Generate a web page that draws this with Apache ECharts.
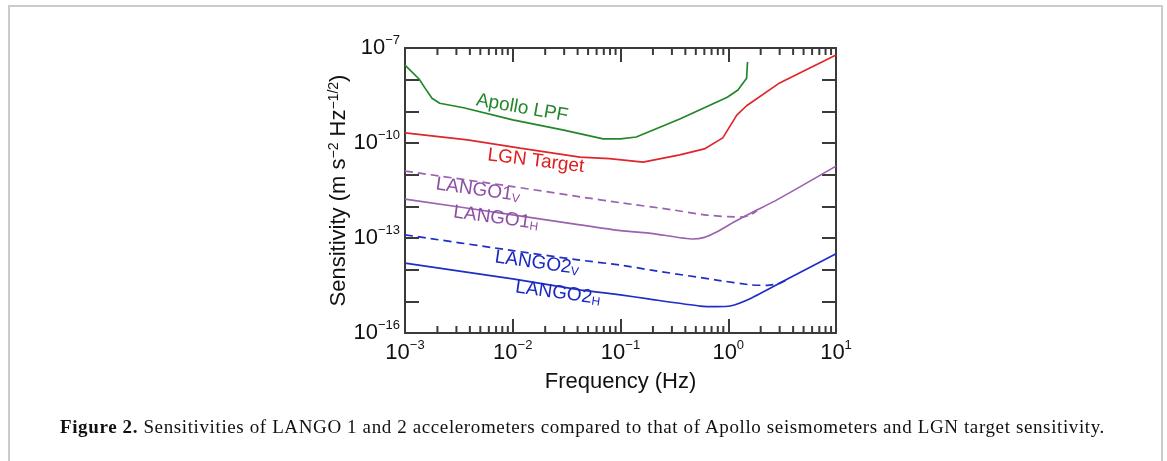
<!DOCTYPE html>
<html>
<head>
<meta charset="utf-8">
<script src="https://cdn.jsdelivr.net/npm/echarts@6/dist/echarts.min.js"></script>
<style>
  html, body { margin: 0; padding: 0; background: #fff; }
  .page { position: relative; width: 1167px; height: 461px; overflow: hidden; }
  .frame { position: absolute; left: 8px; top: 5px; width: 1151px; height: 480px; border: 2px solid #cbcbcb; }
  #chart { position: absolute; left: 0; top: 0; width: 1167px; height: 461px; }
  .caption { position: absolute; left: 60px; top: 416px; font-family: 'Liberation Serif', serif; font-size: 19px; color: #111; white-space: nowrap; }
</style>
</head>
<body>
<div class="page">
  <div class="frame"></div>
  <div id="chart"></div>
  <div class="caption"><span id="cap"><b>Figure 2.</b> Sensitivities of LANGO 1 and 2 accelerometers compared to that of Apollo seismometers and LGN target sensitivity.</span></div>
</div>
<script>
  // values (Hz, m s^-2 Hz^-1/2)
  const apolloFreq = [0.001, 0.00135, 0.00153, 0.00178, 0.0021, 0.0035, 0.01, 0.029, 0.069, 0.1, 0.14, 0.355, 0.98, 1.23, 1.48, 1.51];
  const apolloVal = [2.9e-8, 1.05e-8, 5.5e-9, 2.6e-9, 1.8e-9, 1.3e-9, 5.4e-10, 2.6e-10, 1.35e-10, 1.35e-10, 1.55e-10, 5.7e-10, 2.8e-9, 4.7e-9, 1.1e-8, 3.6e-8];

  const lgnFreq = [0.001, 0.0038, 0.0117, 0.042, 0.079, 0.162, 0.355, 0.6, 0.89, 1.2, 1.48, 3.0, 10];
  const lgnVal = [2.1e-10, 1.26e-10, 6.9e-11, 3.6e-11, 3.2e-11, 2.5e-11, 4.2e-11, 6.5e-11, 1.45e-10, 7.6e-10, 1.5e-9, 7.9e-9, 6.0e-8];

  const lango1vFreq = [0.001, 0.01, 0.042, 0.1, 0.3, 0.6, 1.0, 1.3, 1.6, 1.85];
  const lango1vVal = [1.3e-11, 4.2e-12, 2.0e-12, 1.3e-12, 7.8e-13, 5.4e-13, 4.7e-13, 4.6e-13, 5.3e-13, 7.4e-13];

  const lango1hFreq = [0.001, 0.01, 0.042, 0.1, 0.2, 0.47, 0.6, 0.78, 1.13, 1.63, 2.83, 10];
  const lango1hVal = [1.7e-12, 5.4e-13, 2.6e-13, 1.7e-13, 1.38e-13, 9.3e-14, 1.05e-13, 1.55e-13, 3.2e-13, 6.2e-13, 1.6e-12, 1.86e-11];

  const lango2vFreq = [0.001, 0.01, 0.042, 0.1, 0.188, 0.78, 1.63, 2.3, 3.0, 3.75];
  const lango2vVal = [1.26e-13, 4.0e-14, 2.0e-14, 1.4e-14, 9.8e-15, 4.7e-15, 3.3e-15, 3.2e-15, 3.7e-15, 5.4e-15];

  const lango2hFreq = [0.001, 0.01, 0.042, 0.1, 0.188, 0.55, 0.78, 1.04, 1.63, 3.2, 10];
  const lango2hVal = [1.6e-14, 5.1e-15, 2.3e-15, 1.6e-15, 1.17e-15, 7.1e-16, 6.8e-16, 7.1e-16, 1.26e-15, 4.2e-15, 3.2e-14];

  const xMin = 1e-3, xMax = 10;
  const yMin = 1e-16, yMax = 1e-7;
  const minorTicks = [
    0.002, 0.003, 0.004, 0.005, 0.006, 0.007, 0.008, 0.009,
    0.02, 0.03, 0.04, 0.05, 0.06, 0.07, 0.08, 0.09,
    0.2, 0.3, 0.4, 0.5, 0.6, 0.7, 0.8, 0.9,
    2, 3, 4, 5, 6, 7, 8, 9
  ];

  const zip = (xs, ys) => xs.map((x, i) => [x, ys[i]]);
  const axisColor = '#3a3a3a';
  const font = 'Liberation Sans';

  function powLabel(v) {
    const e = Math.round(Math.log10(v));
    return '{b|10}{sup|' + (e < 0 ? '\u2212' + (-e) : e) + '}';
  }
  const powRich = {
    b: { fontSize: 22, lineHeight: 28, color: '#111', fontFamily: font },
    sup: { fontSize: 13, lineHeight: 13, verticalAlign: 'top', color: '#111', fontFamily: font }
  };

  // curve annotations, anchored in data coordinates
  const notes = [
    { text: 'Apollo LPF', at: [0.0122, 1.27e-9], color: '#23862a', rotate: -10 },
    { text: 'LGN Target', at: [0.0164, 2.7e-11], color: '#e01c1c', rotate: -7 },
    { text: 'LANGO1{sub|V}', at: [0.00476, 3.28e-12], color: '#8e4fa4', rotate: -8 },
    { text: 'LANGO1{sub|H}', at: [0.0070, 4.3e-13], color: '#8e4fa4', rotate: -8 },
    { text: 'LANGO2{sub|V}', at: [0.0168, 1.63e-14], color: '#1b28c0', rotate: -8 },
    { text: 'LANGO2{sub|H}', at: [0.0263, 1.84e-15], color: '#1b28c0', rotate: -8 }
  ];

  function lineSeries(name, xs, ys, color, dashed, smooth) {
    return {
      name: name,
      type: 'line',
      data: zip(xs, ys),
      showSymbol: false,
      smooth: smooth,
      lineStyle: { color: color, width: 1.7, type: dashed ? [8, 5] : 'solid' },
      z: 3
    };
  }

  const chart = echarts.init(document.getElementById('chart'), null, { renderer: 'canvas' });

  const option = {
    animation: false,
    grid: { left: 405, right: 331, top: 48, bottom: 128 },
    xAxis: [
      {
        type: 'log', logBase: 10, min: xMin, max: xMax, interval: 1,
        name: 'Frequency (Hz)', nameLocation: 'middle', nameGap: 38,
        nameTextStyle: { fontSize: 22, color: '#111', fontFamily: font },
        axisLine: { lineStyle: { color: axisColor, width: 2 } },
        axisTick: { inside: true, length: 14, lineStyle: { color: axisColor, width: 2 } },
        axisLabel: { margin: 6, formatter: powLabel, rich: powRich },
        splitLine: { show: false }
      },
      {
        type: 'log', logBase: 10, min: xMin, max: xMax, interval: 1, position: 'top',
        axisLine: { lineStyle: { color: axisColor, width: 2 } },
        axisTick: { inside: true, length: 14, lineStyle: { color: axisColor, width: 2 } },
        axisLabel: { show: false },
        splitLine: { show: false }
      }
    ],
    yAxis: [
      {
        type: 'log', logBase: 10, min: yMin, max: yMax, interval: 1,
        name: 'Sensitivity (m s{sup|\u22122} Hz{sup|\u22121/2})', nameLocation: 'middle', nameRotate: 90, nameGap: 55,
        nameTextStyle: {
          fontSize: 22, color: '#111', fontFamily: font,
          rich: { sup: { fontSize: 14, lineHeight: 14, verticalAlign: 'top', color: '#111', fontFamily: font } }
        },
        axisLine: { lineStyle: { color: axisColor, width: 2 } },
        axisTick: { inside: true, length: 14, lineStyle: { color: axisColor, width: 2 } },
        axisLabel: {
          margin: 5,
          formatter: function (v) {
            const e = Math.round(Math.log10(v));
            return (e + 7) % 3 === 0 ? powLabel(v) : '';
          },
          rich: powRich
        },
        splitLine: { show: false }
      },
      {
        type: 'log', logBase: 10, min: yMin, max: yMax, interval: 1, position: 'right',
        axisLine: { lineStyle: { color: axisColor, width: 2 } },
        axisTick: { inside: true, length: 14, lineStyle: { color: axisColor, width: 2 } },
        axisLabel: { show: false },
        splitLine: { show: false }
      }
    ],
    series: [
      lineSeries('Apollo LPF', apolloFreq, apolloVal, '#23862a', false, false),
      lineSeries('LGN Target', lgnFreq, lgnVal, '#e0262a', false, false),
      lineSeries('LANGO1 V', lango1vFreq, lango1vVal, '#9a62b0', true, 0.2),
      lineSeries('LANGO1 H', lango1hFreq, lango1hVal, '#9a62b0', false, 0.2),
      lineSeries('LANGO2 V', lango2vFreq, lango2vVal, '#1f2ec4', true, 0.2),
      lineSeries('LANGO2 H', lango2hFreq, lango2hVal, '#1f2ec4', false, 0.2),
      {
        // minor ticks on bottom and top axes
        type: 'custom',
        silent: true,
        clip: false,
        data: minorTicks.map(f => [f, yMin]),
        renderItem: function (params, api) {
          const f = api.value(0);
          const b = api.coord([f, yMin]);
          const t = api.coord([f, yMax]);
          const st = { stroke: axisColor, lineWidth: 2 };
          return {
            type: 'group',
            children: [
              { type: 'line', shape: { x1: b[0], y1: b[1], x2: b[0], y2: b[1] - 7 }, style: st },
              { type: 'line', shape: { x1: t[0], y1: t[1], x2: t[0], y2: t[1] + 7 }, style: st }
            ]
          };
        }
      },
      {
        type: 'scatter',
        silent: true,
        symbolSize: 0,
        itemStyle: { opacity: 1 },
        data: notes.map(n => ({
          value: n.at,
          label: { formatter: n.text, color: n.color, rotate: n.rotate }
        })),
        label: {
          show: true,
          position: 'inside',
          fontSize: 19,
          fontFamily: font,
          opacity: 1,
          textBorderWidth: 0,
          rich: {
            sub: { fontSize: 12, lineHeight: 12, verticalAlign: 'bottom', fontFamily: font }
          }
        },
        z: 5
      }
    ]
  };

  chart.setOption(option);

  // stretch caption to the width it has in the figure
  const cap = document.getElementById('cap');
  const w = cap.getBoundingClientRect().width;
  const n = cap.textContent.length;
  cap.parentNode.style.letterSpacing = ((1045 - w) / n).toFixed(3) + 'px';
</script>
</body>
</html>
